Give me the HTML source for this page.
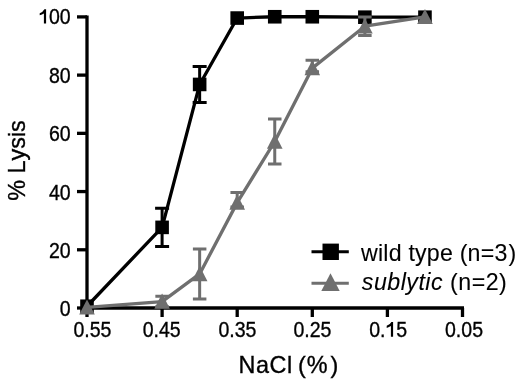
<!DOCTYPE html><html><head><meta charset="utf-8"><style>html,body{margin:0;padding:0;background:#fff;}svg{display:block;will-change:transform;}text{font-family:"Liberation Sans",sans-serif;fill:#000;stroke:#000;stroke-width:0.35px;font-kerning:none;}</style></head><body>
<svg width="520" height="384" viewBox="0 0 520 384">
<g stroke="#000" stroke-width="3.3" fill="none" stroke-linecap="butt">
<path d="M87 15.40 V309.50"/>
<path d="M85.5 308.0 H464.00"/>
<path d="M77 308.00 H87"/>
<path d="M77 249.78 H87"/>
<path d="M77 191.56 H87"/>
<path d="M77 133.34 H87"/>
<path d="M77 75.12 H87"/>
<path d="M77 16.90 H87"/>
<path d="M87.00 308.0 V317"/>
<path d="M162.10 308.0 V317"/>
<path d="M237.20 308.0 V317"/>
<path d="M312.30 308.0 V317"/>
<path d="M387.40 308.0 V317"/>
<path d="M462.50 308.0 V317"/>
</g>
<text transform="translate(70.70 316.10) scale(0.9 1)" font-size="21.7" text-anchor="end">0</text>
<text transform="translate(70.70 257.78) scale(0.9 1)" font-size="21.7" text-anchor="end">20</text>
<text transform="translate(70.70 199.56) scale(0.9 1)" font-size="21.7" text-anchor="end">40</text>
<text transform="translate(70.70 141.34) scale(0.9 1)" font-size="21.7" text-anchor="end">60</text>
<text transform="translate(70.70 83.12) scale(0.9 1)" font-size="21.7" text-anchor="end">80</text>
<text transform="translate(70.70 24.10) scale(0.9 1)" font-size="21.7" text-anchor="end"><tspan style="fill:none;stroke:none">1</tspan>00</text>
<path d="M46.10 9.30 L46.10 23.60 L43.90 23.60 L43.90 13.50 Q42.20 14.70 39.70 15.30 L39.70 13.20 Q42.80 12.30 44.40 9.30 Z" fill="#000"/>
<path d="M393.10 321.90 L393.10 336.80 L390.90 336.80 L390.90 326.10 Q389.20 327.30 386.70 327.90 L386.70 325.80 Q389.80 324.90 391.40 321.90 Z" fill="#000"/>
<text transform="translate(92.40 337.30) scale(0.9 1)" font-size="21.7" text-anchor="middle">0.55</text>
<text transform="translate(161.70 337.30) scale(0.9 1)" font-size="21.7" text-anchor="middle">0.45</text>
<text transform="translate(237.40 337.30) scale(0.9 1)" font-size="21.7" text-anchor="middle">0.35</text>
<text transform="translate(312.40 337.30) scale(0.9 1)" font-size="21.7" text-anchor="middle">0.25</text>
<text transform="translate(388.20 337.30) scale(0.9 1)" font-size="21.7" text-anchor="middle">0.<tspan style="fill:none;stroke:none">1</tspan>5</text>
<text transform="translate(464.00 337.30) scale(0.9 1)" font-size="21.7" text-anchor="middle">0.05</text>
<text transform="translate(25.00 200.80) rotate(-90)" font-size="23.4">% Lysis</text>
<text transform="translate(238.50 372.50)" font-size="23.4" letter-spacing="0.6">NaCl <tspan dx="-1.9">(</tspan><tspan dx="0.2">%</tspan><tspan dx="2.4">)</tspan></text>
<path d="M162.10 208.15 V246.58 M155.10 208.15 H169.10 M155.10 246.58 H169.10" stroke="#000" stroke-width="3" fill="none"/>
<path d="M199.65 66.39 V102.48 M192.65 66.39 H206.65 M192.65 102.48 H206.65" stroke="#000" stroke-width="3" fill="none"/>
<polyline points="87.00,306.25 162.10,227.37 199.65,84.44 237.20,18.06 274.75,16.75 312.30,16.75 364.87,17.19 424.95,17.19" stroke="#000" stroke-width="3.3" fill="none" stroke-linejoin="round"/>
<rect x="80.20" y="299.45" width="13.6" height="13.6" fill="#000"/>
<rect x="155.30" y="220.57" width="13.6" height="13.6" fill="#000"/>
<rect x="192.85" y="77.64" width="13.6" height="13.6" fill="#000"/>
<rect x="230.40" y="11.26" width="13.6" height="13.6" fill="#000"/>
<rect x="267.95" y="9.95" width="13.6" height="13.6" fill="#000"/>
<rect x="305.50" y="9.95" width="13.6" height="13.6" fill="#000"/>
<rect x="358.07" y="10.39" width="13.6" height="13.6" fill="#000"/>
<rect x="418.15" y="10.39" width="13.6" height="13.6" fill="#000"/>
<path d="M162.10 296.36 V306.84 M155.35 296.36 H168.85 M155.35 306.84 H168.85" stroke="#6f6f6f" stroke-width="3" fill="none"/>
<path d="M199.65 248.91 V298.98 M192.90 248.91 H206.40 M192.90 298.98 H206.40" stroke="#6f6f6f" stroke-width="3" fill="none"/>
<path d="M237.20 192.43 V206.99 M230.45 192.43 H243.95 M230.45 206.99 H243.95" stroke="#6f6f6f" stroke-width="3" fill="none"/>
<path d="M274.75 119.08 V163.91 M268.00 119.08 H281.50 M268.00 163.91 H281.50" stroke="#6f6f6f" stroke-width="3" fill="none"/>
<path d="M312.30 60.27 V71.63 M305.55 60.27 H319.05 M305.55 71.63 H319.05" stroke="#6f6f6f" stroke-width="3" fill="none"/>
<path d="M364.87 16.90 V35.53 M358.12 16.90 H371.62 M358.12 35.53 H371.62" stroke="#6f6f6f" stroke-width="3" fill="none"/>
<polyline points="87.00,307.42 162.10,301.60 199.65,273.94 237.20,202.62 274.75,141.49 312.30,68.13 364.87,26.22 424.95,16.90" stroke="#6f6f6f" stroke-width="3.3" fill="none" stroke-linejoin="round"/>
<path d="M87.00 299.41 L94.80 314.61 L79.20 314.61Z" fill="#6f6f6f"/>
<path d="M162.10 293.58 L169.90 308.78 L154.30 308.78Z" fill="#6f6f6f"/>
<path d="M199.65 265.93 L207.45 281.13 L191.85 281.13Z" fill="#6f6f6f"/>
<path d="M237.20 194.61 L245.00 209.81 L229.40 209.81Z" fill="#6f6f6f"/>
<path d="M274.75 133.48 L282.55 148.68 L266.95 148.68Z" fill="#6f6f6f"/>
<path d="M312.30 60.12 L320.10 75.32 L304.50 75.32Z" fill="#6f6f6f"/>
<path d="M364.87 18.20 L372.67 33.40 L357.07 33.40Z" fill="#6f6f6f"/>
<path d="M424.95 8.89 L432.75 24.09 L417.15 24.09Z" fill="#6f6f6f"/>
<path d="M311.5 251.7 H348.8" stroke="#000" stroke-width="3"/>
<rect x="322.50" y="243.60" width="16.4" height="16.4" fill="#000"/>
<path d="M311.5 283.3 H348.8" stroke="#6f6f6f" stroke-width="3"/>
<path d="M330.5 273.3 L339.7 290.9 L321.3 290.9Z" fill="#6f6f6f"/>
<text transform="translate(361.00 260.50)" font-size="23.2" letter-spacing="0.2" style="stroke-width:0.1px">wild type (n=3<tspan dx="0.9">)</tspan></text>
<text transform="translate(361.80 290.40)" font-size="23.2" letter-spacing="0.5" style="stroke-width:0.1px"><tspan font-style="italic">sublytic</tspan> (n=2)</text>
</svg></body></html>
